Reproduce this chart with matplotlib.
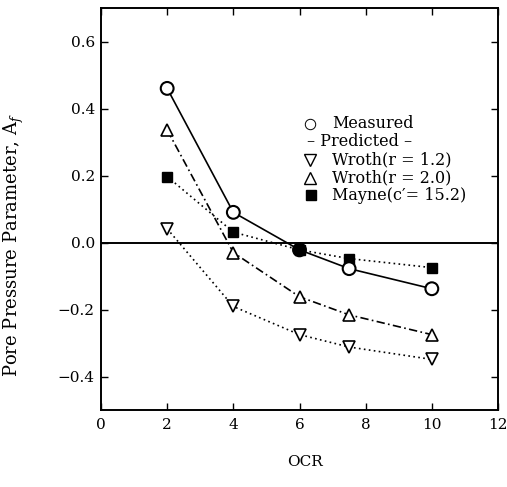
import matplotlib
matplotlib.use("Agg")
import matplotlib.pyplot as plt

plt.rcParams['font.family'] = ['DejaVu Serif']
plt.rcParams['mathtext.fontset'] = 'dejavuserif'

ocr = [2, 4, 6, 7.5, 10]
measured = [0.46, 0.09, -0.022, -0.078, -0.138]
wroth_12 = [0.041, -0.191, -0.275, -0.312, -0.349]
wroth_20 = [0.336, -0.03, -0.162, -0.216, -0.275]
mayne = [0.197, 0.031, -0.022, -0.048, -0.075]
measured_fill = ['white', 'white', 'black', 'white', 'white']

xticks = [0, 2, 4, 6, 8, 10, 12]
yticks = [-0.4, -0.2, 0.0, 0.2, 0.4, 0.6]
ytick_labels = ['\u22120.4', '\u22120.2', '0.0', '0.2', '0.4', '0.6']

W, H = 507, 487
fig = plt.figure(figsize=(W / 100, H / 100), dpi=100)
ax = fig.add_axes([101 / W, 1 - 410 / H, (498 - 101) / W, (410 - 8) / H])

ax.axhline(0, color='black', lw=1.4, zorder=1)

ax.plot(ocr, measured, '-', color='black', lw=1.2, zorder=2)
ax.plot(ocr, wroth_20, linestyle=(0, (5, 2, 1, 2)), color='black', lw=1.2, zorder=2)
ax.plot(ocr, wroth_12, linestyle=(0, (1, 2)), color='black', lw=1.2, zorder=2)
ax.plot(ocr, mayne, linestyle=(0, (1, 2)), color='black', lw=1.2, zorder=2)

ax.plot(ocr, wroth_12, 'v', ms=8, mfc='white', mec='black', mew=1.2, ls='none', zorder=3)
ax.plot(ocr, wroth_20, '^', ms=8, mfc='white', mec='black', mew=1.2, ls='none', zorder=3)
ax.plot(ocr, mayne, 's', ms=6.5, mfc='black', mec='black', ls='none', zorder=4)
ax.scatter(ocr, measured, s=85, facecolors=measured_fill, edgecolors='black',
           linewidths=1.5, zorder=5)

ax.set_xlim(0, 12)
ax.set_ylim(-0.5, 0.7)
ax.set_xticks(xticks)
ax.set_yticks(yticks)
ax.set_yticklabels(ytick_labels)
ax.tick_params(direction='in', top=True, right=True, labelsize=11, length=5, width=1,
               pad=4.5)
ax.tick_params(axis='x', pad=6)
for s in ax.spines.values():
    s.set_linewidth(1.4)

ax.set_xlabel('OCR', fontsize=11)
ax.xaxis.set_label_coords((305 - 101) / 397, (410 - 455) / 402)
ax.set_ylabel('Pore Pressure Parameter, A$_f$', fontsize=13)
ax.yaxis.set_label_coords((26 - 101) / 397, (410 - 245) / 402)


# custom legend (pixel positions converted to axes coords)
def px(x, y):
    return ((x - 101) / (498 - 101), (410 - y) / (410 - 8))


rows = [124, 142, 160, 177.5, 195]
mx, tx = 310, 332
kw = dict(transform=ax.transAxes, ls='none', clip_on=False)
ax.plot(*px(mx, rows[0]), 'o', ms=7.5, mfc='white', mec='black', mew=0.7, **kw)
ax.plot(*px(mx, rows[2]), 'v', ms=8, mfc='white', mec='black', mew=1.0, **kw)
ax.plot(*px(mx, rows[3]), '^', ms=8, mfc='white', mec='black', mew=1.0, **kw)
ax.plot(*px(mx + 1, rows[4]), 's', ms=7.5, mfc='black', mec='black', **kw)
labels = ['Measured', None, 'Wroth(r = 1.2)', 'Wroth(r = 2.0)', "Mayne(c\u2032= 15.2)"]
for r, lab in zip(rows, labels):
    if lab:
        ax.text(*px(tx, r), lab, transform=ax.transAxes, fontsize=11.5,
                va='center', ha='left')
ax.text(*px(307, rows[1]), '\u2013 Predicted \u2013',
        transform=ax.transAxes, fontsize=11.5, va='center', ha='left')

fig.savefig('out.png', dpi=100)
